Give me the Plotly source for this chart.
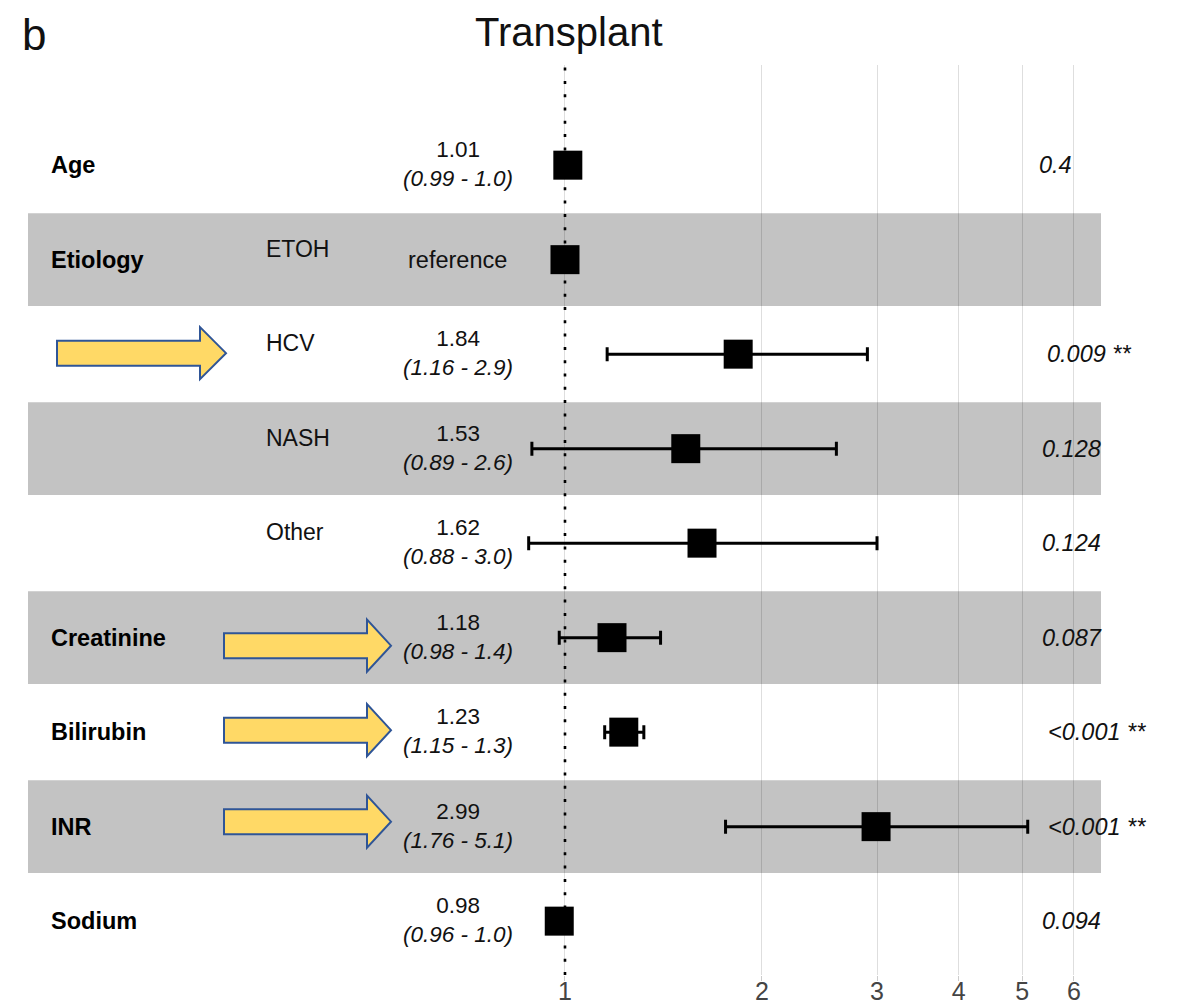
import plotly.graph_objects as go

# ---------------- data ----------------
variables = ["Age", "Etiology", "", "", "", "Creatinine", "Bilirubin", "INR", "Sodium"]
levels = ["", "ETOH", "HCV", "NASH", "Other", "", "", "", ""]
estimates = [1.01, 1.00, 1.84, 1.53, 1.62, 1.18, 1.23, 2.99, 0.98]
ci_low = [0.99, 1.00, 1.16, 0.89, 0.88, 0.98, 1.15, 1.76, 0.96]
ci_high = [1.02, 1.00, 2.90, 2.60, 3.00, 1.40, 1.32, 5.10, 1.00]
is_reference = [False, True, False, False, False, False, False, False, False]
p_values = ["0.4", "", "0.009 **", "0.128", "0.124", "0.087", "<0.001 **", "<0.001 **", "0.094"]
shaded_rows = [False, True, False, True, False, True, False, True, False]
arrow_rows = [2, 5, 6, 7]
tick_values = [1, 2, 3, 4, 5, 6]
title_text = "Transplant"
panel_letter = "b"

# ---------------- layout constants ----------------
OFF = 8  # page body margin in the browser
W, H = 1182 - OFF, 1005 - OFF
# reference-pixel geometry of the plotting area
REF_L, REF_R, REF_T, REF_B = 28, 1101, 65, 975
ML, MT = REF_L - OFF, REF_T - OFF
MR, MB = W - (REF_R - OFF), H - (REF_B - OFF)
PW, PH = REF_R - REF_L, REF_B - REF_T
X_RANGE = [-0.8211, 0.8196]
Y_RANGE = [0.43, 10.06]
FONT = "Liberation Sans, Arial, Helvetica, sans-serif"

n = len(variables)
ypos = [n - i for i in range(n)]  # Age on top


def px_x(px):
    return (px - REF_L) / PW


def px_y(py):
    return (REF_B - py) / PH


def row_py(r):
    y = ypos[r]
    return REF_T + (Y_RANGE[1] - y) / (Y_RANGE[1] - Y_RANGE[0]) * PH


fig = go.Figure()

# shaded bands
for i, s in enumerate(shaded_rows):
    if s:
        fig.add_shape(type="rect", xref="paper", yref="y", x0=0, x1=1,
                      y0=ypos[i] - 0.49, y1=ypos[i] + 0.49,
                      fillcolor="#C3C3C3", line=dict(width=0), layer="below")

# reference dotted line at 1
fig.add_trace(go.Scatter(x=[1, 1], y=Y_RANGE, mode="lines",
                         line=dict(color="black", width=2.6, dash="3px,10.3px"),
                         hoverinfo="skip", showlegend=False))

# estimates with CI
fig.add_trace(go.Scatter(
    x=estimates, y=ypos, mode="markers",
    marker=dict(symbol="square", size=29, color="black"),
    error_x=dict(type="data", symmetric=False,
                 array=[h - e for h, e in zip(ci_high, estimates)],
                 arrayminus=[e - l for e, l in zip(estimates, ci_low)],
                 thickness=3, width=7, color="black"),
    showlegend=False))

annotations = []
for i in range(n):
    y = ypos[i]
    if variables[i]:
        annotations.append(dict(x=px_x(49), y=y, xref="paper", yref="y", text="<b>%s</b>" % variables[i],
                                showarrow=False, xanchor="left", yanchor="middle",
                                font=dict(family=FONT, size=23.5, color="black")))
    if levels[i]:
        annotations.append(dict(x=px_x(264), y=y, xref="paper", yref="y", text=levels[i],
                                showarrow=False, xanchor="left", yanchor="middle", yshift=11,
                                font=dict(family=FONT, size=23, color="#111")))
    if is_reference[i]:
        annotations.append(dict(x=px_x(457), y=y, xref="paper", yref="y", text="reference",
                                showarrow=False, xanchor="center", yanchor="middle",
                                font=dict(family=FONT, size=23.5, color="#111")))
    else:
        annotations.append(dict(x=px_x(458), y=y, xref="paper", yref="y",
                                text="%.2f<br><i>(%.2f - %.1f)</i>" % (estimates[i], ci_low[i], ci_high[i]),
                                showarrow=False, xanchor="center", yanchor="middle", yshift=1,
                                align="center",
                                font=dict(family=FONT, size=22.5, color="#111")))
    if p_values[i]:
        annotations.append(dict(x=px_x(1032 + 1.6 * len(p_values[i])), y=y, xref="paper", yref="y",
                                text="<i>%s</i>" % p_values[i],
                                showarrow=False, xanchor="left", yanchor="middle",
                                font=dict(family=FONT, size=23.5, color="#111")))

TOP_EDGE = px_y(OFF)
annotations.append(dict(x=px_x(569), y=TOP_EDGE, xref="paper", yref="paper", text=title_text,
                        showarrow=False, xanchor="center", yanchor="top",
                        font=dict(family=FONT, size=40, color="#111")))
annotations.append(dict(x=px_x(20), y=TOP_EDGE, xref="paper", yref="paper", text=panel_letter,
                        showarrow=False, xanchor="left", yanchor="top",
                        font=dict(family=FONT, size=44, color="#111")))

# highlight arrows
ARROW_GEOM = {2: (57, 200, 226), 5: (224, 367, 391), 6: (224, 367, 391), 7: (224, 367, 391)}
ARROW_DY = {2: -1, 5: 8, 6: -2, 7: -5}
for r in arrow_rows:
    xl, xb, xt = ARROW_GEOM[r]
    cy = row_py(r) + ARROW_DY[r]
    sh, hh = 12.5, 26
    pts = [(xl, cy - sh), (xb, cy - sh), (xb, cy - hh), (xt, cy), (xb, cy + hh), (xb, cy + sh), (xl, cy + sh)]
    path = "M " + " L ".join("%.5f,%.5f" % (px_x(a), px_y(b)) for a, b in pts) + " Z"
    fig.add_shape(type="path", xref="paper", yref="paper", path=path,
                  fillcolor="#FFD966", line=dict(color="#2F5597", width=2), layer="above")

fig.update_layout(
    width=W, height=H,
    margin=dict(l=ML, r=MR, t=MT, b=MB, autoexpand=False),
    plot_bgcolor="white", paper_bgcolor="white",
    annotations=annotations,
    showlegend=False,
    xaxis=dict(type="log", range=X_RANGE, tickvals=tick_values, ticktext=[str(v) for v in tick_values],
               showgrid=True, gridcolor="rgba(0,0,0,0.13)", gridwidth=1.2,
               ticks="outside", ticklen=5, tickcolor="rgba(0,0,0,0.2)", tickwidth=1.2,
               ticklabelstandoff=-11,
               showline=False, zeroline=False,
               tickfont=dict(family=FONT, size=25, color="#444"), fixedrange=True),
    yaxis=dict(range=Y_RANGE, showgrid=False, zeroline=False, showticklabels=False,
               showline=False, ticks="", fixedrange=True),
)

fig.write_html("out.html")
